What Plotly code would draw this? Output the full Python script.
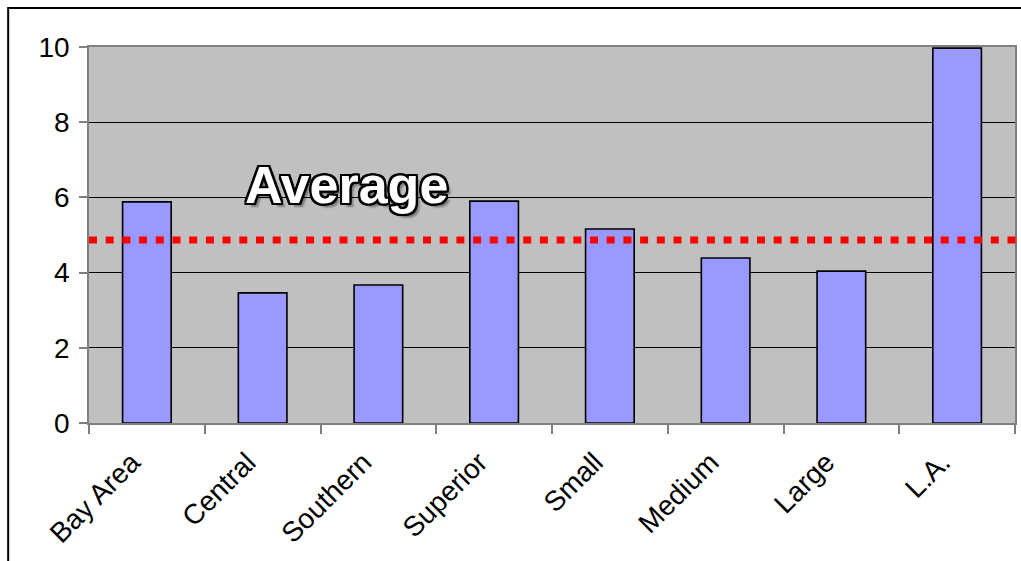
import plotly.graph_objects as go

# Regions / district sizes and their scores
categories = ["Bay Area", "Central", "Southern", "Superior", "Small", "Medium", "Large", "L.A."]
scores = [5.88, 3.46, 3.67, 5.90, 5.16, 4.39, 4.04, 9.97]
average_score = 4.87
y_ticks = [0, 2, 4, 6, 8, 10]

W, H = 1021, 561
L, R, T, B = 89, 4, 47, 138

fig = go.Figure()

fig.add_trace(go.Bar(
    x=categories,
    y=scores,
    width=0.42,
    marker=dict(color="#9999FF", line=dict(color="#000000", width=1.6)),
    hoverinfo="x+y",
))

# Dotted average line across the plot
fig.add_shape(
    type="line", xref="paper", yref="y",
    x0=0, x1=1.01, y0=average_score, y1=average_score,
    line=dict(color="#FF0000", width=7, dash="8px,8.7px"),
    layer="above",
)

# Outer chart frame
pw, ph = W - L - R, H - T - B
fig.add_shape(
    type="rect", xref="paper", yref="paper",
    x0=(8 - L) / pw, x1=(W + 10 - L) / pw,
    y0=-(H + 10 - T - ph) / ph, y1=(H - B - 8) / ph,
    line=dict(color="#000000", width=2),
    layer="above",
)

outline = "#000000"
shadow = ", ".join(
    f"{dx}px {dy}px 0 {outline}"
    for dx, dy in [(2, 0), (-2, 0), (0, 2), (0, -2), (2, 2), (-2, -2), (2, -2), (-2, 2),
                   (1, 2), (2, 1), (-1, 2), (-2, 1), (1, -2), (2, -1), (-1, -2), (-2, -1)]
) + ", 4px 4px 2px rgba(0,0,0,0.35)"

fig.add_annotation(
    text="Average",
    xref="paper", yref="y",
    x=(347 - L) / pw, y=6.34,
    xanchor="center", yanchor="middle",
    showarrow=False,
    font=dict(family="Liberation Sans", size=52, color="#FFFFFF", weight="bold", shadow=shadow),
)

fig.update_layout(
    width=W, height=H,
    margin=dict(l=L, r=R, t=T, b=B, pad=0),
    paper_bgcolor="#FFFFFF",
    plot_bgcolor="#C0C0C0",
    showlegend=False,
    bargap=0.58,
    font=dict(family="Liberation Sans", size=28, color="#000000"),
)

fig.update_xaxes(
    type="category",
    tickangle=-45,
    tickson="boundaries",
    ticks="outside", ticklen=9, tickwidth=1.5, tickcolor="#808080",
    showline=True, linecolor="#808080", linewidth=1.5, mirror=True,
    showgrid=False,
    tickfont=dict(size=28),
    ticklabelshift=-15,
    ticklabelstandoff=10,
    range=[-0.5, len(categories) - 0.5],
)

fig.update_yaxes(
    range=[0, 10],
    tickvals=y_ticks,
    ticks="outside", ticklen=8, tickwidth=1.5, tickcolor="#808080",
    showline=True, linecolor="#808080", linewidth=1.5, mirror=True,
    showgrid=True, gridcolor="#000000", gridwidth=1,
    zeroline=False,
    tickfont=dict(size=28),
    ticklabelstandoff=4,
)

fig.write_html("out.html")
